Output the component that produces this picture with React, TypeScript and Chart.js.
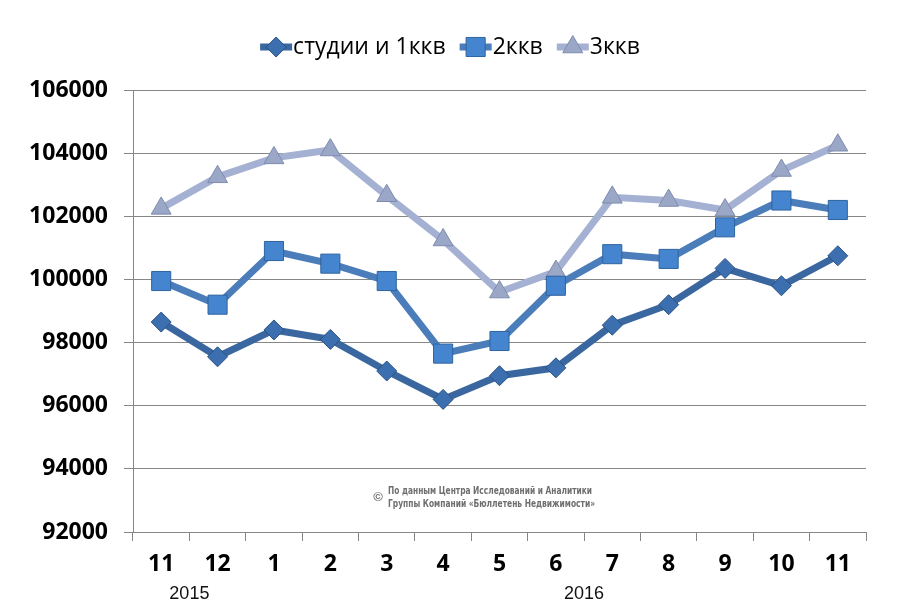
import React, { useEffect, useRef } from "react";
import { Chart, registerables } from "chart.js";

Chart.register(...registerables);

const categories = ["11", "12", "1", "2", "3", "4", "5", "6", "7", "8", "9", "10", "11"];
const seriesNames = ["студии и 1ккв", "2ккв", "3ккв"];
const studio1 = [98650, 97550, 98400, 98100, 97100, 96200, 96950, 97200, 98550, 99200, 100350, 99800, 100750];
const room2 = [99950, 99200, 100900, 100500, 99950, 97650, 98050, 99800, 100800, 100650, 101650, 102500, 102200];
const room3 = [102250, 103250, 103850, 104100, 102650, 101250, 99600, 100250, 102600, 102500, 102200, 103450, 104250];
const yearLabels = ["2015", "2016"];
const yearCenters = [0.5, 7.5];
const watermarkLines = ["По данным Центра Исследований и Аналитики", "Группы Компаний «Бюллетень Недвижимости»"];
const yMin = 92000;
const yMax = 106000;
const yStep = 2000;

const styles = [
  { line: "#3A679F", fill: "#3C6FAF", border: "#2B5283", shape: "rectRot", radius: 10 },
  { line: "#4A7DBA", fill: "#4584CF", border: "#2F649F", shape: "rect", radius: 13.5 },
  { line: "#A5B1D2", fill: "#9AA7C7", border: "#7F8CAE", shape: "triangle", radius: 11.5 },
];

function drawMarker(ctx: CanvasRenderingContext2D, shape: string, x: number, y: number, r: number, fill: string, border: string) {
  ctx.save();
  ctx.fillStyle = fill;
  ctx.strokeStyle = border;
  ctx.lineWidth = 1;
  ctx.beginPath();
  if (shape === "rectRot") {
    ctx.moveTo(x - r, y);
    ctx.lineTo(x, y - r);
    ctx.lineTo(x + r, y);
    ctx.lineTo(x, y + r);
  } else if (shape === "rect") {
    const s = Math.SQRT1_2 * r;
    ctx.rect(x - s, y - s, 2 * s, 2 * s);
  } else {
    ctx.moveTo(x, y - r);
    ctx.lineTo(x + r * Math.sin((2 * Math.PI) / 3), y + r / 2);
    ctx.lineTo(x - r * Math.sin((2 * Math.PI) / 3), y + r / 2);
  }
  ctx.closePath();
  ctx.fill();
  ctx.stroke();
  ctx.restore();
}

const legendPlugin = {
  id: "customLegend",
  afterDraw(chart: any) {
    const ctx: CanvasRenderingContext2D = chart.ctx;
    ctx.save();
    ctx.font = "23px 'Open Sans'";
    const lineW = 32;
    const gap = 14;
    const widths = seriesNames.map((n) => ctx.measureText(n).width);
    const total = widths.reduce((a, b) => a + b + lineW + 1, 0) + gap * (seriesNames.length - 1);
    let x = chart.width / 2 - total / 2;
    const y = 47;
    seriesNames.forEach((name, i) => {
      const st = styles[i];
      ctx.strokeStyle = st.line;
      ctx.lineWidth = 7;
      ctx.beginPath();
      ctx.moveTo(x, y);
      ctx.lineTo(x + lineW, y);
      ctx.stroke();
      drawMarker(ctx, st.shape, x + lineW / 2, y, st.radius, st.fill, st.border);
      ctx.fillStyle = "#000";
      ctx.textBaseline = "middle";
      ctx.textAlign = "left";
      ctx.fillText(name, x + lineW + 1, y);
      x += lineW + 1 + widths[i] + gap;
    });
    ctx.restore();
  },
};

const extrasPlugin = {
  id: "extras",
  afterDraw(chart: any) {
    const ctx: CanvasRenderingContext2D = chart.ctx;
    const xs = chart.scales.x;
    ctx.save();
    ctx.fillStyle = "#111";
    ctx.font = "18px 'Liberation Sans'";
    ctx.textAlign = "center";
    ctx.textBaseline = "middle";
    yearLabels.forEach((lab, i) => {
      const c = yearCenters[i];
      const px = (xs.getPixelForValue(Math.floor(c)) + xs.getPixelForValue(Math.ceil(c))) / 2;
      ctx.fillText(lab, px, 594);
    });
    // watermark
    ctx.fillStyle = "#6E6E6E";
    ctx.font = "bold 13px 'Liberation Sans'";
    ctx.fillText("©", 378, 497);
    ctx.font = "bold 10px 'DejaVu Sans Condensed', 'Liberation Sans'";
    ctx.textAlign = "left";
    ctx.fillText(watermarkLines[0], 388, 491, 204);
    ctx.fillText(watermarkLines[1], 388, 504, 207);
    ctx.restore();
  },
};

export default function App() {
  const ref = useRef<HTMLCanvasElement | null>(null);
  useEffect(() => {
    if (!ref.current) return;
    const data = [studio1, room2, room3];
    const chart = new Chart(ref.current, {
      type: "line",
      data: {
        labels: categories,
        datasets: data.map((d, i) => ({
          label: seriesNames[i],
          data: d,
          borderColor: styles[i].line,
          backgroundColor: styles[i].fill,
          borderWidth: 7,
          tension: 0,
          pointStyle: styles[i].shape as any,
          pointRadius: styles[i].radius,
          pointBackgroundColor: styles[i].fill,
          pointBorderColor: styles[i].border,
          pointBorderWidth: 1,
          clip: false as any,
        })),
      },
      options: {
        animation: false,
        responsive: true,
        maintainAspectRatio: false,
        layout: { padding: { top: 90, right: 34, left: 0, bottom: 0 } },
        plugins: { legend: { display: false }, tooltip: { enabled: false } },
        scales: {
          x: {
            offset: true,
            afterFit: (s: any) => {
              s.height = 79;
            },
            grid: { drawOnChartArea: false, tickLength: 9, color: "#878787", offset: true },
            border: { color: "#878787" },
            ticks: {
              padding: 10,
              color: "#000",
              font: { family: "'Open Sans'", size: 23, weight: "bold" },
              maxRotation: 0,
              autoSkip: false,
            },
          },
          y: {
            min: yMin,
            max: yMax,
            afterFit: (s: any) => {
              s.width = 133;
            },
            grid: { color: "#878787", tickLength: 9 },
            border: { color: "#878787" },
            ticks: {
              stepSize: yStep,
              padding: 16,
              color: "#000",
              font: { family: "'Open Sans'", size: 23, weight: "bold" },
              callback: (v: any) => String(v),
            },
          },
        },
      },
      plugins: [legendPlugin, extrasPlugin],
    });
    return () => chart.destroy();
  }, []);
  return (
    <div style={{ position: "fixed", left: 0, top: 0, width: 900, height: 611, background: "#fff" }}>
      <canvas ref={ref} />
    </div>
  );
}
